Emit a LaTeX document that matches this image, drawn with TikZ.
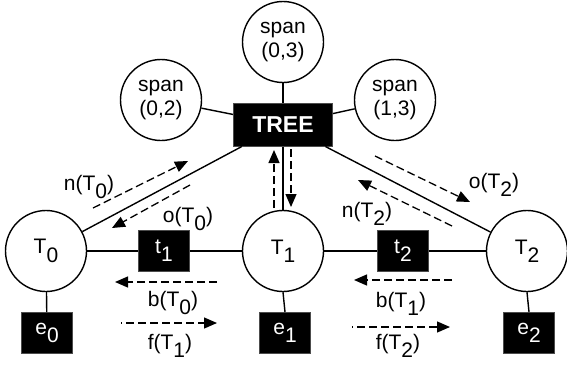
\documentclass[tikz,border=0pt]{standalone}
\usepackage{fontspec}
\setmainfont{Liberation Sans}
\usetikzlibrary{arrows.meta}
\newcommand\sbs[1]{\lower0.4em\hbox{#1}}
\begin{document}
\begin{tikzpicture}[x=1pt,y=-1pt,
  every node/.style={font=\fontsize{21}{24}\selectfont},
  circ/.style={circle,draw,line width=1.4pt,minimum size=81pt,inner sep=0pt,align=center},
  blk/.style={rectangle,fill=black,draw=black!70,line width=1pt,text=white,minimum width=51pt,minimum height=41pt,inner sep=0pt},
  conn/.style={line width=1.4pt},
  darr/.style={line width=1.3pt,dash pattern=on 8pt off 4pt,-{Triangle[length=13pt,width=11pt]}},
  farr/.style={darr,dash phase=7pt},
  lbl/.style={inner sep=0pt}]
\useasboundingbox (0,0) rectangle (567,364);
% upper part
\node[circ] (s03) at (283,42) {span\\(0,3)};
\node[circ] (s02) at (161,100) {span\\(0,2)};
\node[circ] (s13) at (395,100) {span\\(1,3)};
\node[rectangle,fill=black,draw=black!70,line width=1pt,text=white,minimum width=99pt,minimum height=43pt,inner sep=0pt,font=\fontsize{23}{26}\selectfont\bfseries] (tree) at (283,124.5) {TREE};
% lower part
\node[circ] (T0) at (46,251) {T\sbs{0}};
\node[circ] (T1) at (283,251) {T\sbs{1}};
\node[circ] (T2) at (527,251) {T\sbs{2}};
\node[blk] (t1) at (164,251) {t\sbs{1}};
\node[blk] (t2) at (403,251) {t\sbs{2}};
\node[blk] (e0) at (47,333) {e\sbs{0}};
\node[blk] (e1) at (285,333) {e\sbs{1}};
\node[blk] (e2) at (529,333) {e\sbs{2}};
% connectors
\draw[conn] (s03) -- (tree);
\draw[conn] (s02) -- (tree);
\draw[conn] (s13) -- (tree);
\draw[conn] (tree) -- (T0);
\draw[conn] (tree) -- (T1);
\draw[conn] (tree) -- (T2);
\draw[conn] (T0) -- (t1);
\draw[conn] (t1) -- (T1);
\draw[conn] (T1) -- (t2);
\draw[conn] (t2) -- (T2);
\draw[conn] (T0) -- (e0);
\draw[conn] (T1 |- T1.south) -- (e1 |- e1.north);
\draw[conn] (T2 |- T2.south) -- (e2 |- e2.north);
% message arrows
\coordinate (nA) at (93,208);  \coordinate (nB) at (188,161);
\coordinate (oA) at (190,185); \coordinate (oB) at (112,228);
\coordinate (pA) at (375,156); \coordinate (pB) at (470,202);
\coordinate (qA) at (452,226); \coordinate (qB) at (358,180);
\coordinate (uA) at (274,208); \coordinate (uB) at (274,150);
\coordinate (dA) at (291,149); \coordinate (dB) at (291,207);
\coordinate (bA) at (217,282); \coordinate (bB) at (115,282);
\coordinate (fA) at (121,323); \coordinate (fB) at (217,323);
\coordinate (cA) at (452,280); \coordinate (cB) at (354,280);
\coordinate (gA) at (352,327); \coordinate (gB) at (450,327);
\draw[darr] (nA) -- (nB);
\draw[darr] (oA) -- (oB);
\draw[darr] (pA) -- (pB);
\draw[darr] (qA) -- (qB);
\draw[darr] (uA) -- (uB);
\draw[darr] (dA) -- (dB);
\draw[darr] (bA) -- (bB);
\draw[farr] (fA) -- (fB);
\draw[darr] (cA) -- (cB);
\draw[farr] (gA) -- (gB);
% labels
\node[lbl] (ln0) at (89,187) {n(T\sbs{0})};
\node[lbl] (lo0) at (188,219) {o(T\sbs{0})};
\node[lbl] (lo2) at (494,185) {o(T\sbs{2})};
\node[lbl] (ln2) at (367,214) {n(T\sbs{2})};
\node[lbl] (lb0) at (173,303) {b(T\sbs{0})};
\node[lbl] (lf1) at (170,346) {f(T\sbs{1})};
\node[lbl] (lb1) at (401,304) {b(T\sbs{1})};
\node[lbl] (lf2) at (398,346) {f(T\sbs{2})};
\end{tikzpicture}
\end{document}
